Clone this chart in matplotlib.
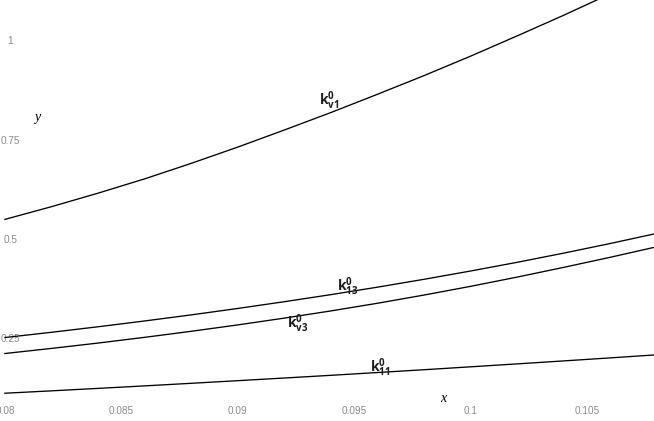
import matplotlib
matplotlib.use("Agg")
import matplotlib.pyplot as plt

x = [0.080, 0.082, 0.084, 0.086, 0.088, 0.090, 0.092, 0.094, 0.096, 0.098,
     0.100, 0.102, 0.104, 0.106, 0.108]
k_v1 = [0.549, 0.581, 0.615, 0.651, 0.690, 0.731, 0.774, 0.818, 0.864, 0.911,
        0.960, 1.011, 1.063, 1.117, 1.173]
k_13 = [0.2516, 0.2648, 0.2787, 0.2933, 0.3086, 0.3248, 0.3418, 0.3596, 0.3784,
        0.3982, 0.4191, 0.4410, 0.4641, 0.4884, 0.5139]
k_v3 = [0.2114, 0.2242, 0.2377, 0.2521, 0.2673, 0.2834, 0.3005, 0.3186, 0.3379,
        0.3586, 0.3805, 0.4038, 0.4283, 0.4537, 0.4802]
k_11 = [0.1114, 0.1174, 0.1236, 0.1299, 0.1364, 0.1430, 0.1497, 0.1565, 0.1635,
        0.1706, 0.1779, 0.1853, 0.1928, 0.2004, 0.2082]

xticks = [0.08, 0.085, 0.09, 0.095, 0.1, 0.105]
xticklabels = ["0.08", "0.085", "0.09", "0.095", "0.1", "0.105"]
yticks = [0.25, 0.5, 0.75, 1.0]
yticklabels = ["0.25", "0.5", "0.75", "1"]

curve_labels = [
    (r"$\mathbf{k}^{\mathbf{0}}_{\mathbf{v1}}$", 0.09391, 0.847),
    (r"$\mathbf{k}^{\mathbf{0}}_{\mathbf{13}}$", 0.09471, 0.3788),
    (r"$\mathbf{k}^{\mathbf{0}}_{\mathbf{v3}}$", 0.09256, 0.2857),
    (r"$\mathbf{k}^{\mathbf{0}}_{\mathbf{11}}$", 0.09611, 0.1749),
]

plt.rcParams["mathtext.fontset"] = "custom"
plt.rcParams["mathtext.bf"] = "Open Sans:bold"
plt.rcParams["mathtext.rm"] = "Open Sans"

fig = plt.figure(figsize=(6.54, 4.21), dpi=100)
ax = fig.add_axes([0, 0, 1, 1])

for series in (k_v1, k_13, k_v3, k_11):
    ax.plot(x, series, color="black", lw=0.95)

for txt, tx, ty in curve_labels:
    ax.text(tx, ty, txt, ha="center", va="center", fontsize=10, color="#1a1a1a")

ax.set_xlim(0.079789, 0.10787)
ax.set_ylim(0.0415, 1.1012)
for s in ax.spines.values():
    s.set_visible(False)

ax.set_xticks(xticks)
ax.set_xticklabels(xticklabels, family="Liberation Sans", fontsize=7.2, color="#8a8a8a")
ax.set_yticks(yticks)
ax.set_yticklabels(yticklabels, family="Liberation Sans", fontsize=7.2, color="#8a8a8a")
for lab in ax.get_yticklabels():
    lab.set_horizontalalignment("center")
ax.tick_params(axis="x", length=0, pad=-10.8)
ax.tick_params(axis="y", length=0, pad=-7.4)

ax.set_xlabel("x", family="Liberation Serif", style="italic", fontsize=10)
ax.set_ylabel("y", family="Liberation Serif", style="italic", fontsize=10, rotation=0)
ax.xaxis.set_label_coords(443 / 654, 1 - 398 / 421)
ax.yaxis.set_label_coords(37 / 654, 1 - 117 / 421)
ax.xaxis.label.set_verticalalignment("center")
ax.yaxis.label.set_verticalalignment("center")
ax.yaxis.label.set_horizontalalignment("center")

fig.savefig("out.png", dpi=100)
